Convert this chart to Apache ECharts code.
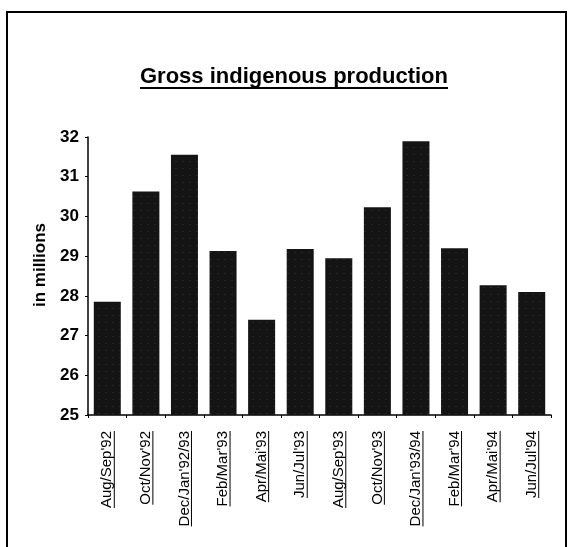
<!DOCTYPE html>
<html>
<head>
<meta charset="utf-8">
<script src="https://cdn.jsdelivr.net/npm/echarts@6/dist/echarts.min.js"></script>
<style>
  html, body { margin: 0; padding: 0; background: #fff; }
  #main { width: 574px; height: 547px; }
</style>
</head>
<body>
<div id="main"></div>
<script>
var titleText = 'Gross indigenous production';
var yName = 'in millions';
var categories = ["Aug/Sep'92", "Oct/Nov'92", "Dec/Jan'92/93", "Feb/Mar'93", "Apr/Mai'93", "Jun/Jul'93",
                  "Aug/Sep'93", "Oct/Nov'93", "Dec/Jan'93/94", "Feb/Mar'94", "Apr/Mai'94", "Jun/Jul'94"];
var production = [27.85, 30.63, 31.55, 29.13, 27.4, 29.18, 28.95, 30.23, 31.89, 29.2, 28.27, 28.1];
var yMin = 25, yMax = 32, yStep = 1;

var FONT = '"Liberation Sans", Arial, sans-serif';
var labelSize = 15, labelMargin = 16;

var chart = echarts.init(document.getElementById('main'));

function measure(text, font) {
    var ctx = document.createElement('canvas').getContext('2d');
    ctx.font = font;
    return ctx.measureText(text).width;
}

var option = {
    backgroundColor: '#fff',
    animation: false,
    title: {
        text: titleText,
        left: 140,
        top: 66,
        padding: 0,
        textStyle: { fontFamily: FONT, fontSize: 22, fontWeight: 'bold', color: '#000' }
    },
    grid: { left: 88, right: 23, top: 137, bottom: 132 },
    xAxis: {
        type: 'category',
        data: categories,
        axisLine: { lineStyle: { color: '#000', width: 1.5 } },
        axisTick: { show: true, length: 3, lineStyle: { color: '#000' } },
        axisLabel: {
            rotate: 90,
            margin: labelMargin,
            interval: 0,
            fontFamily: FONT,
            fontSize: labelSize,
            color: '#000'
        }
    },
    yAxis: {
        type: 'value',
        min: yMin,
        max: yMax,
        interval: yStep,
        name: yName,
        nameLocation: 'middle',
        nameRotate: 90,
        nameGap: 38,
        nameTextStyle: { fontFamily: FONT, fontSize: 17, fontWeight: 'bold', color: '#000', padding: [0, 0, 0, 22] },
        splitLine: { show: false },
        axisLine: { show: true, lineStyle: { color: '#000', width: 1.5 } },
        axisTick: { show: true, length: 3, lineStyle: { color: '#000' } },
        axisLabel: { margin: 9, fontFamily: FONT, fontSize: 17, fontWeight: 'bold', color: '#000' }
    },
    series: [{
        type: 'bar',
        data: production,
        barCategoryGap: '30%',
        itemStyle: {
            color: '#141414',
            decal: {
                symbol: 'rect',
                symbolSize: 0.5,
                color: 'rgba(255,255,255,0.3)',
                dashArrayX: [2, 5],
                dashArrayY: [1, 6],
                rotation: 0
            }
        }
    }]
};
chart.setOption(option);

// frame + underlines (title and category labels)
var graphics = [{
    type: 'rect',
    shape: { x: 7, y: 12, width: 559, height: 560 },
    style: { fill: null, stroke: '#000', lineWidth: 2 },
    silent: true
}];
var tw = measure(titleText, 'bold 22px ' + FONT);
graphics.push({
    type: 'line',
    shape: { x1: 140, y1: 88, x2: 140 + tw, y2: 88 },
    style: { stroke: '#000', lineWidth: 2 }
});
var axisY = chart.convertToPixel({ yAxisIndex: 0 }, yMin);
categories.forEach(function (c) {
    var cx = chart.convertToPixel({ xAxisIndex: 0 }, c);
    var w = measure(c, labelSize + 'px ' + FONT);
    var ux = cx + 7;
    graphics.push({
        type: 'line',
        shape: { x1: ux, y1: axisY + labelMargin, x2: ux, y2: axisY + labelMargin + w },
        style: { stroke: '#000', lineWidth: 1 }
    });
});
chart.setOption({ graphic: graphics });
</script>
</body>
</html>
